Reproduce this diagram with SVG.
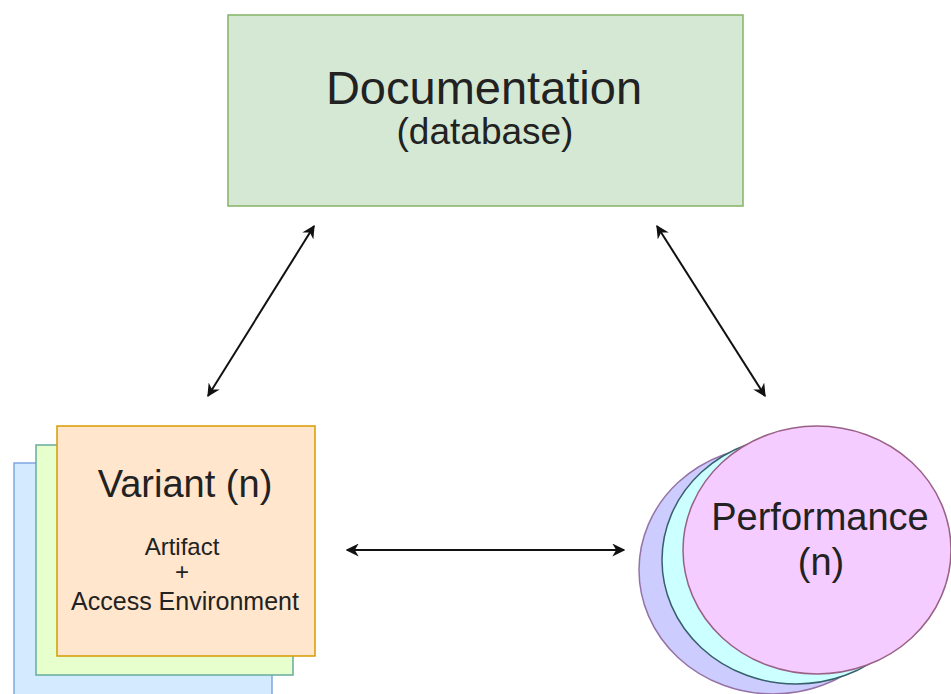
<svg xmlns="http://www.w3.org/2000/svg" width="951" height="694" viewBox="0 0 951 694">
<style>
text{font-family:"Liberation Sans",Arial,sans-serif;fill:#222;text-anchor:middle}
.c{stroke:#111;stroke-width:2;fill:none;marker-start:url(#a);marker-end:url(#a)}
</style>
<defs>
<marker id="a" viewBox="0 0 10 10" refX="9" refY="5" markerWidth="6.5" markerHeight="6.5" orient="auto-start-reverse" markerUnits="strokeWidth">
<path d="M0,0 L10,5 L0,10 L3,5 Z" fill="#111"/>
</marker>
</defs>
<rect width="951" height="694" fill="#fff"/>
<g id="documentation">
<rect x="228" y="15" width="515" height="191" fill="#d5e8d4" stroke="#82b366" stroke-width="1.5"/>
<text x="484" y="104" font-size="47">Documentation</text>
<text x="485" y="144" font-size="37" fill="#333">(database)</text>
</g>
<g id="variant">
<rect x="14" y="463" width="258" height="240" fill="#d4ebff" stroke="#7ea6e0" stroke-width="1.5"/>
<rect x="36" y="445" width="257" height="230" fill="#e6ffcc" stroke="#67ab9f" stroke-width="1.5"/>
<rect x="57" y="426" width="258" height="230" fill="#ffe6cc" stroke="#d79b00" stroke-width="1.5"/>
<text x="185" y="497" font-size="38" fill="#333">Variant (n)</text>
<text x="182" y="555" font-size="24" fill="#333">Artifact</text>
<text x="182" y="580" font-size="24" fill="#333">+</text>
<text x="185" y="610" font-size="25" fill="#333">Access Environment</text>
</g>
<g id="performance">
<ellipse cx="773" cy="570" rx="134" ry="124" fill="#ccccff" stroke="#9673a6" stroke-width="1.5"/>
<ellipse cx="796" cy="560" rx="134" ry="124" fill="#ccffff" stroke="#36606b" stroke-width="1.5"/>
<ellipse cx="817" cy="550" rx="134" ry="124" fill="#f5ccff" stroke="#996185" stroke-width="1.5"/>
<text x="820" y="530" font-size="38">Performance</text>
<text x="821" y="575" font-size="38">(n)</text>
</g>
<g id="connectors">
<line class="c" x1="208" y1="396" x2="314" y2="226"/>
<line class="c" x1="657" y1="226" x2="765" y2="396"/>
<line class="c" x1="347" y1="550" x2="624" y2="550"/>
</g>
</svg>
